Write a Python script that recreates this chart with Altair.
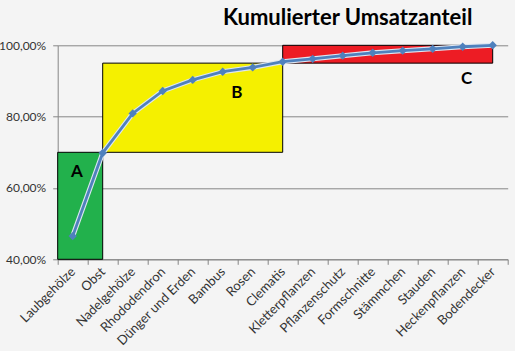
import json
import altair as alt
import pandas as pd

categories = ["Laubgehölze", "Obst", "Nadelgehölze", "Rhododendron", "Dünger und Erden",
              "Bambus", "Rosen", "Clematis", "Kletterpflanzen", "Pflanzenschutz",
              "Formschnitte", "Stämmchen", "Stauden", "Heckenpflanzen", "Bodendecker"]
cum_share = [46.5, 69.8, 80.9, 87.2, 90.3, 92.6, 93.8, 95.4, 96.2, 97.1,
             97.9, 98.5, 99.0, 99.6, 100.0]

zone_names = ["A", "B", "C"]
zone_start = [0.0, 1.5, 7.5]      # category units
zone_end = [1.5, 7.5, 14.5]
zone_low = [40, 70, 95]
zone_high = [70, 95, 100]
zone_colors = ["#22B14C", "#F5F000", "#ED1C24"]
label_x = [0.64, 5.97, 13.63]
label_y = [64.5, 86.5, 90.5]

y_ticks = [40, 60, 80, 100]

line_df = pd.DataFrame({
    "cat": categories,
    "pos": [i + 0.5 for i in range(len(categories))],
    "share": cum_share,
})
zone_df = pd.DataFrame({
    "zone": zone_names, "x0": zone_start, "x1": zone_end,
    "lo": zone_low, "hi": zone_high, "color": zone_colors,
    "lx": label_x, "ly": label_y,
})

FONT = "Lato"
cats_js = json.dumps(categories, ensure_ascii=False)

x_scale = alt.Scale(domain=[0, len(categories)], nice=False, zero=False)
y_scale = alt.Scale(domain=[40, 100], nice=False, zero=False)

x_axis = alt.Axis(
    values=[i * 0.5 for i in range(2 * len(categories) + 1)],
    labelExpr=f"datum.value % 1 == 0 ? '' : {cats_js}[floor(datum.value)]",
    tickOpacity={"expr": "datum.value % 1 == 0 ? 1 : 0"},
    labelAngle=-45, labelAlign="right", labelBaseline="middle",
    labelOverlap=False, labelBound=False, labelFlush=False,
    labelFont=FONT, labelFontSize=13, labelColor="#333333", labelPadding=5,
    tickSize=5, tickColor="#868686", domainColor="#868686",
    grid=False, title=None,
)
y_axis = alt.Axis(
    values=y_ticks,
    labelExpr="replace(format(datum.value, '.2f'), '.', ',') + '%'",
    labelFont=FONT, labelFontSize=12, labelColor="#333333", labelPadding=7,
    tickSize=5, tickColor="#868686", domainColor="#868686",
    grid=True, gridColor="#868686", title=None,
)

rects = alt.Chart(zone_df).mark_rect(stroke="black", strokeWidth=1).encode(
    x=alt.X("x0:Q", scale=x_scale, axis=x_axis),
    x2="x1:Q",
    y=alt.Y("lo:Q", scale=y_scale, axis=y_axis),
    y2="hi:Q",
    color=alt.Color("color:N", scale=None),
)

zone_text = alt.Chart(zone_df).mark_text(
    font=FONT, fontSize=17, fontWeight="bold", color="black", baseline="middle", align="center"
).encode(
    x=alt.X("lx:Q", scale=x_scale, axis=x_axis),
    y=alt.Y("ly:Q", scale=y_scale, axis=y_axis),
    text="zone:N",
)

base = alt.Chart(line_df).encode(
    x=alt.X("pos:Q", scale=x_scale, axis=x_axis),
    y=alt.Y("share:Q", scale=y_scale, axis=y_axis),
)
halo = base.mark_line(color="#DCE6F2", strokeWidth=5)
line = base.mark_line(color="#4F81BD", strokeWidth=2.8)
points = base.mark_point(shape="diamond", filled=True, size=70, color="#4F81BD", opacity=1)

chart = alt.layer(rects, zone_text, halo, line, points).properties(
    width=450, height=214,
    title=alt.TitleParams(
        "Kumulierter Umsatzanteil", font=FONT, fontSize=22, fontWeight="bold",
        color="black", anchor="middle", dx=65, offset=5, frame="group",
    ),
    autosize=alt.AutoSizeParams(type="none"),
    padding={"left": 57.7, "top": 45.3, "right": 7.3, "bottom": 91.7},
    background="#F4F4F4",
).configure_view(stroke=None)

chart.save("out.html", embed_options={"renderer": "svg", "actions": False})
